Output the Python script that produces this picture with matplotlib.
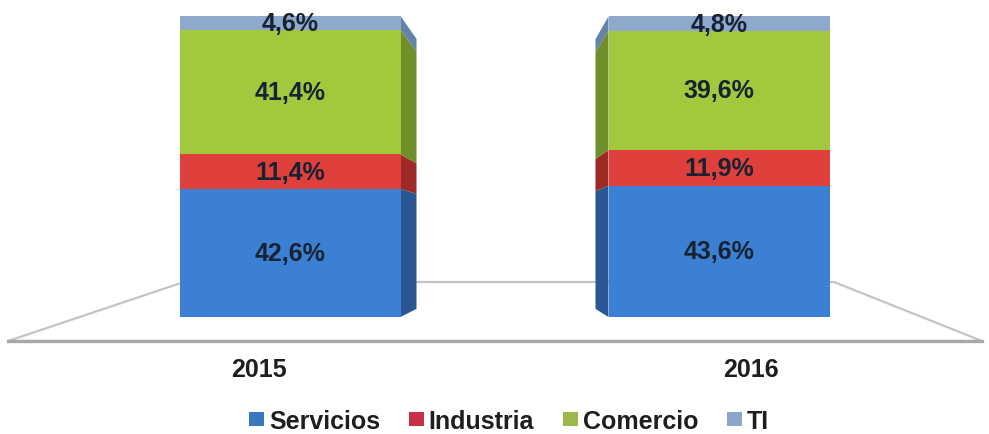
import matplotlib
matplotlib.use("Agg")
import matplotlib.pyplot as plt
from matplotlib.patches import Patch, Polygon

# shares by sector, bottom to top
years = ["2015", "2016"]
sectors = ["Servicios", "Industria", "Comercio", "TI"]
servicios = [42.6, 43.6]
industria = [11.4, 11.9]
comercio = [41.4, 39.6]
ti = [4.6, 4.8]
series = [servicios, industria, comercio, ti]

front_colors = ["#3b80d2", "#e0403c", "#a2c93e", "#8ea9cc"]
side_colors = ["#2a5794", "#9e2a28", "#6f8f2a", "#6582a8"]
legend_colors = ["#3a78bd", "#c8304a", "#9bb84a", "#8aa6cc"]

bar_x = [290, 719]
bar_w = 221
side_dx = [16, -13]          # depth of the side face, pixels
label_x = [259, 751]

FONT = "Liberation Sans"
PX_PER_PCT = 3.01
BASE_PX = 318                # pixel row of the 0 % line


def pct(ypix):
    return (BASE_PX - ypix) / PX_PER_PCT


def back(v):
    # value at the receding edge of the side face
    return 2.7 + 0.897 * v


fig = plt.figure(figsize=(9.89, 4.35), dpi=100)
ax = fig.add_axes([0, 0, 1, 1])
ax.set_xlim(0, 989)
ax.set_ylim(pct(435), pct(0))
ax.axis("off")

# floor
floor = Polygon([(8, pct(342)), (982, pct(342)), (834, pct(283)), (184, pct(283))],
                closed=True, facecolor="white", edgecolor="#c4c4c4", linewidth=1.6,
                zorder=1)
ax.add_patch(floor)
ax.plot([8, 982], [pct(342), pct(342)], color="#a8a8a8", linewidth=2.4, zorder=1)

for i, year in enumerate(years):
    bottom = 0.0
    xf = bar_x[i] + (bar_w / 2 if side_dx[i] > 0 else -bar_w / 2)
    xb = xf + side_dx[i]
    for vals, fc, sc in zip(series, front_colors, side_colors):
        v = vals[i]
        top = bottom + v
        ax.bar(bar_x[i], v, bottom=bottom, width=bar_w, color=fc,
               edgecolor="none", zorder=3)
        side = Polygon([(xf, bottom), (xb, back(bottom)), (xb, back(top)), (xf, top)],
                       closed=True, facecolor=sc, edgecolor="none", zorder=2)
        ax.add_patch(side)
        ax.text(bar_x[i], bottom + v / 2, f"{v:.1f}%".replace(".", ","),
                ha="center", va="center", fontsize=18, fontweight="bold",
                color="#172233", family=FONT, zorder=4)
        bottom = top
    ax.text(label_x[i], pct(370), year, ha="center", va="center",
            fontsize=18, fontweight="bold", color="#1e1e1e", family=FONT)

handles = [Patch(facecolor=c, edgecolor="none") for c in legend_colors]
fig.legend(handles, sectors, loc="center", bbox_to_anchor=(509 / 989, 1 - 422 / 435),
           ncol=4, frameon=False, handlelength=0.6, handleheight=0.45,
           handletextpad=0.2, columnspacing=1.15,
           prop={"family": FONT, "weight": "bold", "size": 18})
for t in fig.legends[0].get_texts():
    t.set_color("#1e1e1e")

fig.savefig("out.png", dpi=100, facecolor="white")
